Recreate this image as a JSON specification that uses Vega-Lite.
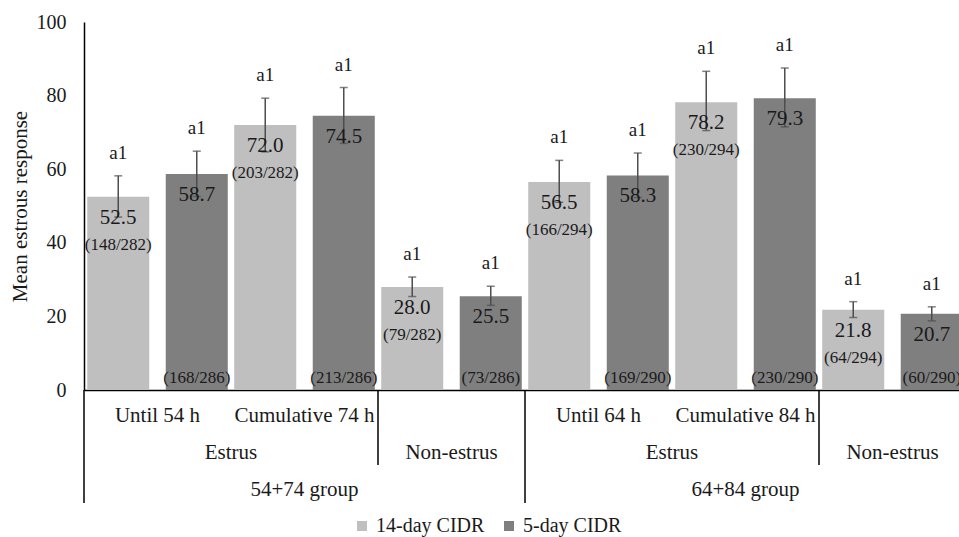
{
  "$schema": "https://vega.github.io/schema/vega-lite/v6.json",
  "width": 875,
  "height": 368,
  "autosize": {"type": "none"},
  "padding": {"left": 84, "top": 22, "right": 0, "bottom": 147},
  "background": "white",
  "config": {
    "view": {"stroke": null},
    "font": "Liberation Serif",
    "text": {"font": "Liberation Serif", "color": "#1a1a1a"},
    "axis": {"labelFont": "Liberation Serif", "titleFont": "Liberation Serif"},
    "legend": {"labelFont": "Liberation Serif"}
  },
  "datasets": {
    "bars": [
      {"slot": "54+74: Until 54 h", "cidr": "14-day CIDR", "value": 52.5, "lo": 47.0, "hi": 58.2, "n": "(148/282)", "sig": "a1"},
      {"slot": "54+74: Until 54 h", "cidr": "5-day CIDR", "value": 58.7, "lo": 52.6, "hi": 64.9, "n": "(168/286)", "sig": "a1"},
      {"slot": "54+74: Cumulative 74 h", "cidr": "14-day CIDR", "value": 72.0, "lo": 64.7, "hi": 79.3, "n": "(203/282)", "sig": "a1"},
      {"slot": "54+74: Cumulative 74 h", "cidr": "5-day CIDR", "value": 74.5, "lo": 67.0, "hi": 82.2, "n": "(213/286)", "sig": "a1"},
      {"slot": "54+74: Non-estrus", "cidr": "14-day CIDR", "value": 28.0, "lo": 25.4, "hi": 30.7, "n": "(79/282)", "sig": "a1"},
      {"slot": "54+74: Non-estrus", "cidr": "5-day CIDR", "value": 25.5, "lo": 23.0, "hi": 28.2, "n": "(73/286)", "sig": "a1"},
      {"slot": "64+84: Until 64 h", "cidr": "14-day CIDR", "value": 56.5, "lo": 51.0, "hi": 62.4, "n": "(166/294)", "sig": "a1"},
      {"slot": "64+84: Until 64 h", "cidr": "5-day CIDR", "value": 58.3, "lo": 52.3, "hi": 64.4, "n": "(169/290)", "sig": "a1"},
      {"slot": "64+84: Cumulative 84 h", "cidr": "14-day CIDR", "value": 78.2, "lo": 70.5, "hi": 86.6, "n": "(230/294)", "sig": "a1"},
      {"slot": "64+84: Cumulative 84 h", "cidr": "5-day CIDR", "value": 79.3, "lo": 71.5, "hi": 87.5, "n": "(230/290)", "sig": "a1"},
      {"slot": "64+84: Non-estrus", "cidr": "14-day CIDR", "value": 21.8, "lo": 19.7, "hi": 24.0, "n": "(64/294)", "sig": "a1"},
      {"slot": "64+84: Non-estrus", "cidr": "5-day CIDR", "value": 20.7, "lo": 18.8, "hi": 22.6, "n": "(60/290)", "sig": "a1"}
    ]
  },
  "layer": [
    {
      "data": {"name": "bars"},
      "mark": {"type": "bar"},
      "encoding": {
        "x": {
          "field": "slot", "type": "nominal",
          "scale": {
            "domain": ["54+74: Until 54 h", "54+74: Cumulative 74 h", "54+74: Non-estrus", "64+84: Until 64 h", "64+84: Cumulative 84 h", "64+84: Non-estrus"],
            "paddingInner": 0, "paddingOuter": 0, "range": [0, 882]
          },
          "axis": {
            "title": null, "ticks": false, "grid": false,
            "domainColor": "black", "domainWidth": 1.5,
            "labelFont": "Liberation Serif", "labelFontSize": 21, "labelColor": "#1a1a1a",
            "labelPadding": 14, "labelAngle": 0, "labelOverlap": false, "labelLimit": 0,
            "labelExpr": "indexof(datum.label, 'Non-estrus') >= 0 ? '' : split(datum.label, ': ')[1]"
          }
        },
        "xOffset": {
          "field": "cidr", "type": "nominal",
          "scale": {"domain": ["14-day CIDR", "5-day CIDR"], "paddingInner": 0.21, "paddingOuter": 0.041}
        },
        "y": {
          "field": "value", "type": "quantitative",
          "scale": {"domain": [0, 100], "nice": false},
          "axis": {
            "title": "Mean estrous response", "titleFont": "Liberation Serif", "titleFontSize": 21,
            "titleFontWeight": "normal", "titleColor": "#1a1a1a", "titlePadding": 6,
            "values": [0, 20, 40, 60, 80, 100], "ticks": false, "grid": false,
            "domainColor": "black", "domainWidth": 1.5,
            "labelFont": "Liberation Serif", "labelFontSize": 20, "labelColor": "#1a1a1a", "labelPadding": 18
          }
        },
        "color": {
          "field": "cidr", "type": "nominal",
          "scale": {"domain": ["14-day CIDR", "5-day CIDR"], "range": ["#bfbfbf", "#7f7f7f"]},
          "legend": {
            "title": null, "orient": "none", "legendX": 268, "legendY": 494, "direction": "horizontal",
            "symbolType": "square", "symbolSize": 100, "symbolStrokeWidth": 0,
            "labelFont": "Liberation Serif", "labelFontSize": 20, "labelColor": "#1a1a1a",
            "labelOffset": 4, "columnPadding": 14
          }
        }
      }
    },
    {
      "data": {"name": "bars"},
      "mark": {"type": "rule", "color": "#4d4d4d", "strokeWidth": 1.5},
      "encoding": {
        "x": {"field": "slot", "type": "nominal"},
        "xOffset": {"field": "cidr", "type": "nominal"},
        "y": {"field": "lo", "type": "quantitative"},
        "y2": {"field": "hi"}
      }
    },
    {
      "data": {"name": "bars"},
      "mark": {"type": "tick", "color": "#4d4d4d", "thickness": 1.5, "size": 8},
      "encoding": {
        "x": {"field": "slot", "type": "nominal"},
        "xOffset": {"field": "cidr", "type": "nominal"},
        "y": {"field": "lo", "type": "quantitative"}
      }
    },
    {
      "data": {"name": "bars"},
      "mark": {"type": "tick", "color": "#4d4d4d", "thickness": 1.5, "size": 8},
      "encoding": {
        "x": {"field": "slot", "type": "nominal"},
        "xOffset": {"field": "cidr", "type": "nominal"},
        "y": {"field": "hi", "type": "quantitative"}
      }
    },
    {
      "data": {"name": "bars"},
      "mark": {"type": "text", "baseline": "middle", "dy": 21, "fontSize": 21},
      "encoding": {
        "x": {"field": "slot", "type": "nominal"},
        "xOffset": {"field": "cidr", "type": "nominal"},
        "y": {"field": "value", "type": "quantitative"},
        "text": {"field": "value", "type": "quantitative", "format": ".1f"}
      }
    },
    {
      "data": {"name": "bars"},
      "mark": {"type": "text", "baseline": "middle", "dy": -23, "fontSize": 19},
      "encoding": {
        "x": {"field": "slot", "type": "nominal"},
        "xOffset": {"field": "cidr", "type": "nominal"},
        "y": {"field": "hi", "type": "quantitative"},
        "text": {"field": "sig", "type": "nominal"}
      }
    },
    {
      "data": {"name": "bars"},
      "transform": [{"filter": "datum.cidr == '14-day CIDR'"}],
      "mark": {"type": "text", "baseline": "middle", "dy": 48, "fontSize": 17},
      "encoding": {
        "x": {"field": "slot", "type": "nominal"},
        "xOffset": {"field": "cidr", "type": "nominal"},
        "y": {"field": "value", "type": "quantitative"},
        "text": {"field": "n", "type": "nominal"}
      }
    },
    {
      "data": {"name": "bars"},
      "transform": [{"filter": "datum.cidr == '5-day CIDR'"}],
      "mark": {"type": "text", "baseline": "middle", "dy": -12.5, "fontSize": 17},
      "encoding": {
        "x": {"field": "slot", "type": "nominal"},
        "xOffset": {"field": "cidr", "type": "nominal"},
        "y": {"datum": 0},
        "text": {"field": "n", "type": "nominal"}
      }
    },
    {
      "data": {"values": [{"slot": "54+74: Until 54 h"}, {"slot": "64+84: Until 64 h"}]},
      "mark": {"type": "rule", "color": "black", "strokeWidth": 1.5},
      "encoding": {
        "x": {"field": "slot", "type": "nominal", "bandPosition": 0},
        "y": {"datum": 0},
        "y2": {"datum": -30.7}
      }
    },
    {
      "data": {"values": [{"slot": "54+74: Non-estrus"}, {"slot": "64+84: Non-estrus"}]},
      "mark": {"type": "rule", "color": "black", "strokeWidth": 1.5},
      "encoding": {
        "x": {"field": "slot", "type": "nominal", "bandPosition": 0},
        "y": {"datum": 0},
        "y2": {"datum": -20.4}
      }
    },
    {
      "data": {"values": [{"slot": "54+74: Until 54 h", "label": "Estrus"}, {"slot": "64+84: Until 64 h", "label": "Estrus"}]},
      "mark": {"type": "text", "baseline": "middle", "fontSize": 21},
      "encoding": {
        "x": {"field": "slot", "type": "nominal", "bandPosition": 1},
        "y": {"datum": -17.1},
        "text": {"field": "label", "type": "nominal"}
      }
    },
    {
      "data": {"values": [{"slot": "54+74: Non-estrus", "label": "Non-estrus"}, {"slot": "64+84: Non-estrus", "label": "Non-estrus"}]},
      "mark": {"type": "text", "baseline": "middle", "fontSize": 21},
      "encoding": {
        "x": {"field": "slot", "type": "nominal", "bandPosition": 0.5},
        "y": {"datum": -17.1},
        "text": {"field": "label", "type": "nominal"}
      }
    },
    {
      "data": {"values": [{"slot": "54+74: Cumulative 74 h", "label": "54+74 group"}, {"slot": "64+84: Cumulative 84 h", "label": "64+84 group"}]},
      "mark": {"type": "text", "baseline": "middle", "fontSize": 21},
      "encoding": {
        "x": {"field": "slot", "type": "nominal", "bandPosition": 0.5},
        "y": {"datum": -27.2},
        "text": {"field": "label", "type": "nominal"}
      }
    }
  ]
}
